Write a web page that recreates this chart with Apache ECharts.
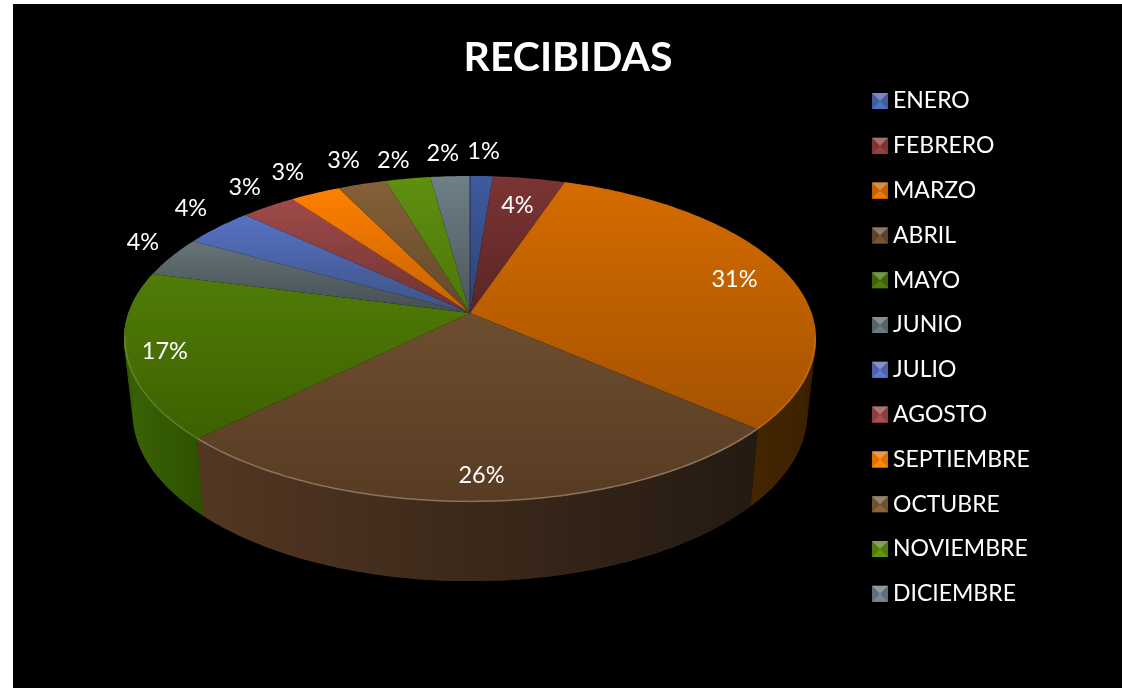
<!DOCTYPE html>
<html>
<head>
<meta charset="utf-8">
<title>RECIBIDAS</title>
<style>
html,body{margin:0;padding:0;background:#fff;}
#main{width:1122px;height:688px;}
</style>
</head>
<body>
<div id="main"></div>
<script src="https://cdn.jsdelivr.net/npm/echarts@6/dist/echarts.min.js"></script>
<script>
var months = ['ENERO','FEBRERO','MARZO','ABRIL','MAYO','JUNIO','JULIO','AGOSTO','SEPTIEMBRE','OCTUBRE','NOVIEMBRE','DICIEMBRE'];
var shares = [1.24,3.93,31.23,26.15,16.55,4.0,3.87,3.03,2.76,2.64,2.45,2.15];

// colours: slice top (rim side, centre side) and wall (left, right)
var topColors = [['#3f5a9e','#2e4270'],['#7c3434','#5a2525'],['#d56c00','#a45200'],['#6e4e30','#573b22'],
	['#507c08','#3e6000'],['#677478','#434d52'],['#5572c4','#3f5284'],['#a04a4a','#6e3232'],
	['#ff8000','#c46200'],['#876038','#5f4a2a'],['#5f9010','#4d7508'],['#6f8088','#4a555a']];
var wallColors = {2:['#5a3200','#3c2100'],3:['#533722','#241a12'],4:['#3a6406','#2e5000']};
var legendColors = ['#3f5a9e','#7c3434','#c46200','#5f4328','#3f6408','#56636a','#4a62aa','#8a3e3e','#e07000','#6f5030','#4f7a0c','#5f6e76'];
var rimOpacity = {2:0.3,3:0.8,4:0.45};

// label radius along the slice's middle ray (1 = rim), and small pixel nudges
var labelRadius = [1.218,0.778,0.83,0.88,0.891,1.10,1.118,1.131,1.205,1.2,1.2,1.2];
var labelNudge = [[0,0],[0,0],[0,0],[0,0],[0,0],[0,-9],[0,-10],[0,-7],[0,0],[0,-2],[-4,4],[-4,0]];

// perspective disc: apex y, x/y scale and the depth factor
var k = 0.1595;
var topDisc = {cx:470,cy:313,a:341.6,b:158.9};
var lowDisc = {cx:470,cy:386,a:333,b:164};

var total = 0;
shares.forEach(function(v){ total += v; });

function project(disc,theta,r){
	var u = r*Math.sin(theta), v = -r*Math.cos(theta), w = 1-k*v;
	return [disc.cx+disc.a*u/w, disc.cy+disc.b*v/w];
}

function rimPoints(disc,from,to,r){
	var n = Math.max(2,Math.ceil((to-from)/0.015)), pts = [];
	for(var i=0;i<=n;i++){
		pts.push(project(disc,from+(to-from)*i/n,r||1));
	}
	return pts;
}

function sliceRange(idx){
	var before = 0;
	for(var i=0;i<idx;i++){ before += shares[i]; }
	return [before/total*Math.PI*2,(before+shares[idx])/total*Math.PI*2];
}

function vertical(c){
	return new echarts.graphic.LinearGradient(0,0,0,1,[{offset:0,color:c[0]},{offset:1,color:c[1]}]);
}

function renderSlice(params,api){
	var idx = params.seriesIndex;
	var range = sliceRange(idx), from = range[0], to = range[1];
	var topRim = rimPoints(topDisc,from,to);
	var lowRim = rimPoints(lowDisc,from,to);
	var children = [];

	// wall, only the three front slices can be seen. Drawn in quads so the
	// straight edge between the two rims at the far left and right is filled too
	if(wallColors[idx]){
		var xs = topRim.concat(lowRim).map(function(p){ return p[0]; });
		var wallFill = new echarts.graphic.LinearGradient(Math.min.apply(null,xs),0,Math.max.apply(null,xs),0,
			[{offset:0,color:wallColors[idx][0]},{offset:1,color:wallColors[idx][1]}],true);
		children.push({type:'polygon',z2:1,shape:{points:topRim.concat(lowRim.slice().reverse())},style:{fill:wallFill}});
		for(var i=0;i<topRim.length-1;i++){
			children.push({type:'polygon',z2:1,shape:{points:[topRim[i],topRim[i+1],lowRim[i+1],lowRim[i]]},style:{fill:wallFill}});
		}
	}
	// top face
	children.push({type:'polygon',z2:2,shape:{points:[[topDisc.cx,topDisc.cy]].concat(topRim)},
		style:{fill:vertical(topColors[idx])}});
	// bevel light along the front of the rim
	if(rimOpacity[idx]){
		var front = rimPoints(topDisc,from,to,0.997).filter(function(p){ return p[1]>335; });
		children.push({type:'polyline',z2:3,shape:{points:front},
			style:{fill:null,stroke:echarts.color.lift(topColors[idx][0],0.3),lineWidth:1.5,opacity:rimOpacity[idx]}});
	}
	if(idx===0){
		children.push({type:'polyline',z2:3,shape:{points:[[topDisc.cx,topDisc.cy],topRim[0]]},
			style:{fill:null,stroke:'#1f2f55',lineWidth:1}});
	}
	// percentage
	var mid = project(topDisc,(from+to)/2,labelRadius[idx]);
	children.push({type:'text',z2:10,style:{
		text:Math.round(shares[idx]/total*100)+'%',
		x:mid[0]+labelNudge[idx][0],y:mid[1]+labelNudge[idx][1],
		fill:'#fff',font:'23.5px Lato',align:'center',verticalAlign:'middle'
	}});
	return {type:'group',children:children};
}

var series = months.map(function(name,i){
	return {
		name:name,type:'custom',coordinateSystem:'none',
		itemStyle:{color:legendColors[i]},
		renderItem:renderSlice,silent:true,
		data:[[shares[i]]]
	};
});

// black plate and the small bevel on the legend keys
var graphics = [{type:'rect',z:-10,silent:true,shape:{x:13,y:4,width:1109,height:684},style:{fill:'#000'}}];
months.forEach(function(name,i){
	var y = 93+44.8*i, x = 872, s = 16, c = legendColors[i];
	graphics.push({type:'polygon',z:10,silent:true,shape:{points:[[x,y],[x+s,y],[x+s/2,y+s/2]]},
		style:{fill:echarts.color.lift(c,0.3)}});
	graphics.push({type:'polygon',z:10,silent:true,shape:{points:[[x,y+s],[x+s,y+s],[x+s/2,y+s/2]]},
		style:{fill:echarts.color.lift(c,-0.25)}});
});

var myChart = echarts.init(document.getElementById('main'));
myChart.setOption({
	animation:false,
	title:{
		text:'RECIBIDAS',left:563,top:32,textAlign:'center',
		textStyle:{color:'#fff',fontFamily:'Lato',fontWeight:'bold',fontSize:41}
	},
	legend:{
		orient:'vertical',left:872,top:89,padding:0,
		itemWidth:16,itemHeight:16,itemGap:20.8,icon:'rect',selectedMode:false,
		data:months,
		textStyle:{color:'#fff',fontFamily:'Lato',fontSize:23,lineHeight:24,padding:[0,0,0,0]}
	},
	graphic:graphics,
	series:series
});
</script>
</body>
</html>
